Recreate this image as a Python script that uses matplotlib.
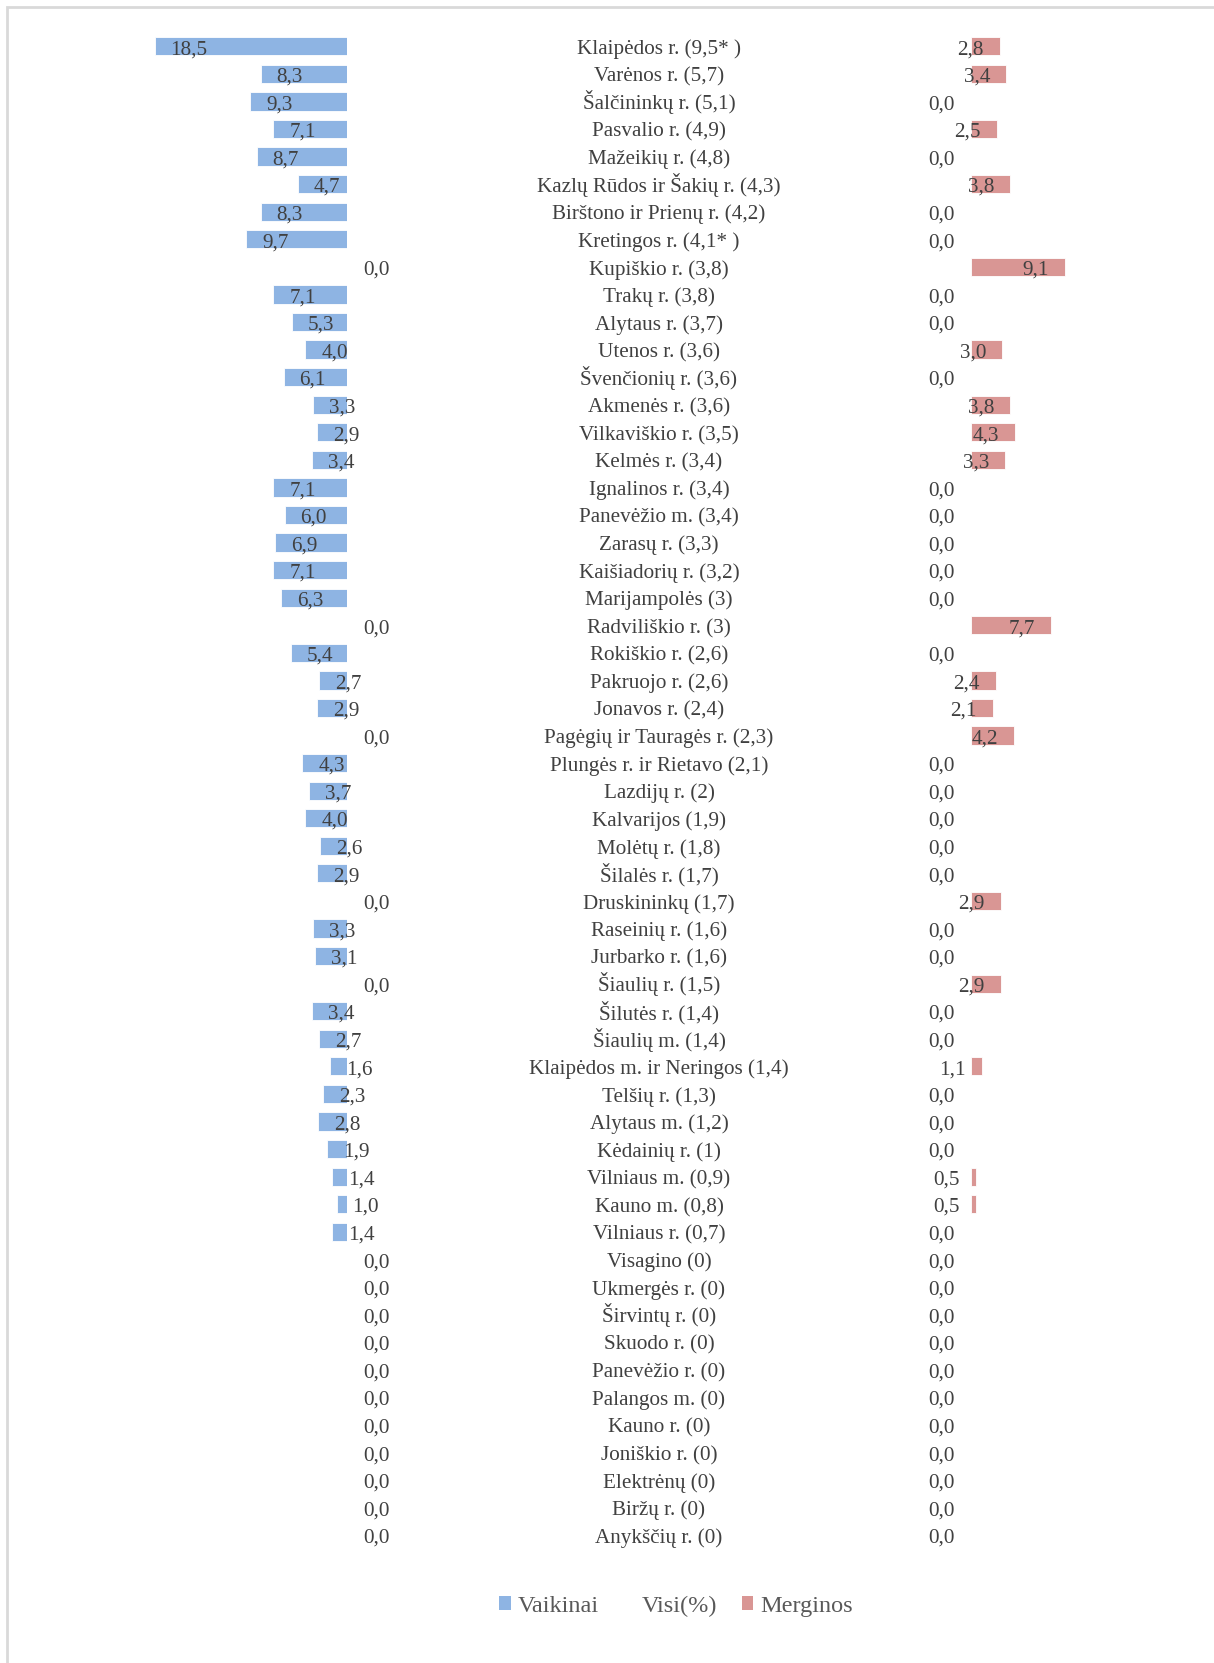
import numpy as np
import matplotlib.pyplot as plt
from matplotlib.patches import Patch, Rectangle

# duomenys
regions = [
    "Klaipėdos r. (9,5* )", "Varėnos r. (5,7)", "Šalčininkų r. (5,1)", "Pasvalio r. (4,9)",
    "Mažeikių r. (4,8)", "Kazlų Rūdos ir Šakių r. (4,3)", "Birštono ir Prienų r. (4,2)",
    "Kretingos r. (4,1* )", "Kupiškio r. (3,8)", "Trakų r. (3,8)", "Alytaus r. (3,7)",
    "Utenos r. (3,6)", "Švenčionių r. (3,6)", "Akmenės r. (3,6)", "Vilkaviškio r. (3,5)",
    "Kelmės r. (3,4)", "Ignalinos r. (3,4)", "Panevėžio m. (3,4)", "Zarasų r. (3,3)",
    "Kaišiadorių r. (3,2)", "Marijampolės (3)", "Radviliškio r. (3)", "Rokiškio r. (2,6)",
    "Pakruojo r. (2,6)", "Jonavos r. (2,4)", "Pagėgių ir Tauragės r. (2,3)",
    "Plungės r. ir Rietavo (2,1)", "Lazdijų r. (2)", "Kalvarijos (1,9)", "Molėtų r. (1,8)",
    "Šilalės r. (1,7)", "Druskininkų (1,7)", "Raseinių r. (1,6)", "Jurbarko r. (1,6)",
    "Šiaulių r. (1,5)", "Šilutės r. (1,4)", "Šiaulių m. (1,4)", "Klaipėdos m. ir Neringos (1,4)",
    "Telšių r. (1,3)", "Alytaus m. (1,2)", "Kėdainių r. (1)", "Vilniaus m. (0,9)",
    "Kauno m. (0,8)", "Vilniaus r. (0,7)", "Visagino (0)", "Ukmergės r. (0)", "Širvintų r. (0)",
    "Skuodo r. (0)", "Panevėžio r. (0)", "Palangos m. (0)", "Kauno r. (0)", "Joniškio r. (0)",
    "Elektrėnų (0)", "Biržų r. (0)", "Anykščių r. (0)",
]
vaikinai = [18.5, 8.3, 9.3, 7.1, 8.7, 4.7, 8.3, 9.7, 0.0, 7.1, 5.3, 4.0, 6.1, 3.3, 2.9, 3.4,
            7.1, 6.0, 6.9, 7.1, 6.3, 0.0, 5.4, 2.7, 2.9, 0.0, 4.3, 3.7, 4.0, 2.6, 2.9, 0.0,
            3.3, 3.1, 0.0, 3.4, 2.7, 1.6, 2.3, 2.8, 1.9, 1.4, 1.0, 1.4,
            0, 0, 0, 0, 0, 0, 0, 0, 0, 0, 0]
merginos = [2.8, 3.4, 0.0, 2.5, 0.0, 3.8, 0.0, 0.0, 9.1, 0.0, 0.0, 3.0, 0.0, 3.8, 4.3, 3.3,
            0.0, 0.0, 0.0, 0.0, 0.0, 7.7, 0.0, 2.4, 2.1, 4.2, 0.0, 0.0, 0.0, 0.0, 0.0, 2.9,
            0.0, 0.0, 2.9, 0.0, 0.0, 1.1, 0.0, 0.0, 0.0, 0.5, 0.5, 0.0,
            0, 0, 0, 0, 0, 0, 0, 0, 0, 0, 0]

plt.rcParams['font.family'] = ['Liberation Serif', 'DejaVu Serif']
blue = '#8EB4E3'
red = '#D99694'
txt = '#404040'

W, H = 1214, 1663
fig = plt.figure(figsize=(W / 100, H / 100), dpi=100)

# remelis
fig.patches.append(Rectangle((7 / W, -0.01), 1.05, (H - 7) / H + 0.01, transform=fig.transFigure,
                             fill=False, edgecolor='#d9d9d9', linewidth=2))

n = len(regions)
y = np.arange(n)
row_h = 27.57
top = 46.3 - row_h / 2
bot = top + n * row_h
ay, ah = (H - bot) / H, (bot - top) / H
scale = 10.4  # px per vienetas
fs = 15.2
dy = -5.6  # baseline zemiau eilutes centro (pt)

def fmt(v):
    return f"{v:.1f}".replace('.', ',')

# kaire puse (vaikinai)
lmax = 20
ax1 = fig.add_axes([(347 - lmax * scale) / W, ay, lmax * scale / W, ah])
ax1.barh(y, vaikinai, height=0.66, color=blue, edgecolor='white', linewidth=0.6)
ax1.set_xlim(lmax, 0)
ax1.set_ylim(n - 0.5, -0.5)
for i, v in enumerate(vaikinai):
    ax1.annotate(fmt(v), (v, i), xytext=(16 * 0.72, dy), textcoords='offset points',
                 ha='left', va='baseline', fontsize=fs, color=txt, annotation_clip=False)
ax1.axis('off')

# desine puse (merginos)
rmax = 12
ax2 = fig.add_axes([970.7 / W, ay, rmax * scale / W, ah])
ax2.barh(y, merginos, height=0.66, color=red, edgecolor='white', linewidth=0.6)
ax2.set_xlim(0, rmax)
ax2.set_ylim(n - 0.5, -0.5)
for i, v in enumerate(merginos):
    ax2.annotate(fmt(v), (v, i), xytext=(-16 * 0.72, dy), textcoords='offset points',
                 ha='right', va='baseline', fontsize=fs, color=txt, annotation_clip=False)
ax2.axis('off')

# vidurys (pavadinimai)
axm = fig.add_axes([459 / W, ay, 400 / W, ah])
axm.set_xlim(0, 1)
axm.set_ylim(n - 0.5, -0.5)
for i, r in enumerate(regions):
    axm.annotate(r, (0.5, i), xytext=(0, dy), textcoords='offset points',
                 ha='center', va='baseline', fontsize=fs, color=txt)
axm.axis('off')

handles = [Patch(facecolor=blue), Patch(facecolor='none', edgecolor='none'), Patch(facecolor=red)]
fig.legend(handles, ['Vaikinai', 'Visi(%)', 'Merginos'], loc='center', ncol=3,
           bbox_to_anchor=(676 / W, 1 - 1606 / H), frameon=False, fontsize=17.5,
           handlelength=0.46, handleheight=0.46, handletextpad=0.3, columnspacing=1.0,
           labelcolor='#595959')

plt.savefig('out.png', dpi=100)
